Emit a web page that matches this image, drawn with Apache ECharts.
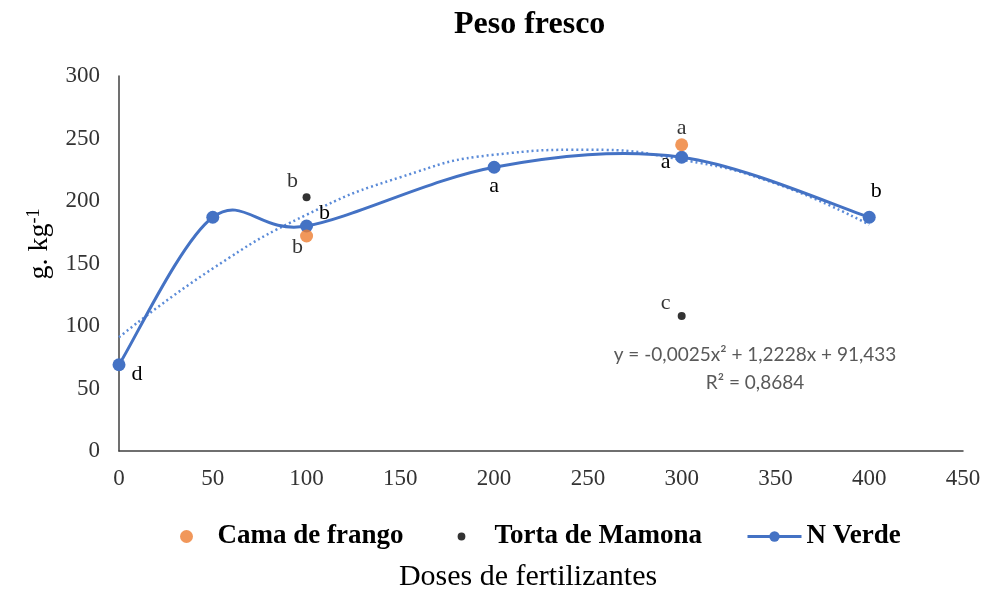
<!DOCTYPE html>
<html>
<head>
<meta charset="utf-8">
<script src="https://cdn.jsdelivr.net/npm/echarts@6/dist/echarts.min.js"></script>
<style>html,body{margin:0;padding:0;background:#fff}#c{width:990px;height:589px}</style>
</head>
<body>
<div id="c"></div>
<script>
// ---- data ----
const doses = [0, 50, 100, 200, 300, 400];
const nVerde = [69, 187, 180, 227, 235, 187];
const nVerdeLetters = ['d', '', 'b', 'a', 'a', 'b'];
const camaDoses = [100, 300];
const cama = [172, 245];
const camaLetters = ['b', 'a'];
const tortaDoses = [100, 300];
const torta = [203, 108];
const tortaLetters = ['b', 'c'];
const trendDoses = [0, 50, 100, 150, 200, 250, 300, 350, 400];
const trend = [91, 146, 189, 219, 237, 241, 233, 214, 181];
const xTicks = [0, 450, 50];
const yTicks = [0, 300, 50];
const equationLines = ['y = -0,0025x² + 1,2228x + 91,433', 'R² = 0,8684'];
const seriesNames = ['Cama de frango', 'Torta de Mamona', 'N Verde'];

// ---- label placement (styles) ----
const nVerdeOffsets = [[18, 9], null, [18, -13], [0, 19], [-16, 5], [7, -26]];
const camaOffsets = [[-9, 11], [0, -17]];
const tortaOffsets = [[-14, -16], [-16, -13]];

const serif = '"Liberation Serif", "Times New Roman", serif';
const blue = '#4472C4';
function build(xs, ys, letters, offsets) {
  return xs.map((x, i) => {
    const d = { value: [x, ys[i]] };
    if (letters[i]) {
      d.label = { show: true, formatter: letters[i], position: 'inside', offset: offsets[i],
        fontFamily: serif, fontSize: 22, color: '#000' };
    }
    return d;
  });
}

// Excel-like smoothed curve through the N Verde points, drawn via the axis scales
function renderSmooth(params, api) {
  const pts = doses.map((x, i) => api.coord([x, nVerde[i]]));
  const n = pts.length;
  let d = 'M' + pts[0][0] + ',' + pts[0][1];
  for (let i = 0; i < n - 1; i++) {
    const p0 = pts[Math.max(i - 1, 0)], p1 = pts[i], p2 = pts[i + 1], p3 = pts[Math.min(i + 2, n - 1)];
    const c1 = [p1[0] + (p2[0] - p0[0]) / 6, p1[1] + (p2[1] - p0[1]) / 6];
    const c2 = [p2[0] - (p3[0] - p1[0]) / 6, p2[1] - (p3[1] - p1[1]) / 6];
    d += ' C' + c1[0] + ',' + c1[1] + ' ' + c2[0] + ',' + c2[1] + ' ' + p2[0] + ',' + p2[1];
  }
  return { type: 'path', shape: { pathData: d },
    style: { fill: null, stroke: blue, lineWidth: 3, lineJoin: 'round', lineCap: 'round' } };
}

const legendText = { fontFamily: serif, fontWeight: 'bold', fontSize: 27, color: '#000' };
const chart = echarts.init(document.getElementById('c'));
chart.setOption({
  animation: false,
  title: { text: 'Peso fresco', left: 449, top: 4,
    textStyle: { fontFamily: serif, fontWeight: 'bold', fontSize: 32, color: '#000' } },
  grid: { left: 119, right: 27, top: 76, bottom: 138, containLabel: false, outerBoundsMode: 'none' },
  xAxis: {
    type: 'value', min: xTicks[0], max: xTicks[1], interval: xTicks[2],
    name: 'Doses de fertilizantes', nameLocation: 'middle', nameGap: 111,
    nameTextStyle: { fontFamily: serif, fontSize: 30, color: '#000', padding: [0, 26, 0, 0] },
    axisLine: { lineStyle: { color: '#404040', width: 1.5 } },
    axisTick: { show: false }, splitLine: { show: false },
    axisLabel: { fontFamily: serif, fontSize: 23, color: '#333', margin: 16 }
  },
  yAxis: {
    type: 'value', min: yTicks[0], max: yTicks[1], interval: yTicks[2],
    axisLine: { show: true, lineStyle: { color: '#404040', width: 1.5 } },
    axisTick: { show: false }, splitLine: { show: false },
    axisLabel: { fontFamily: serif, fontSize: 23, color: '#333', margin: 19 }
  },
  legend: [
    { data: [{ name: seriesNames[0], icon: 'circle' }], top: 518, left: 175,
      itemWidth: 52, itemHeight: 13, textStyle: legendText },
    { data: [{ name: seriesNames[1], icon: 'path://M0,0 M20,20 M10,4 A6,6 0 1,1 10,16 A6,6 0 1,1 10,4 Z' }],
      top: 518, left: 450, itemWidth: 56, itemHeight: 13, textStyle: legendText },
    { data: [{ name: seriesNames[2], lineStyle: { opacity: 1, width: 3, color: blue } }],
      top: 518, left: 741, itemWidth: 54, itemHeight: 13, textStyle: legendText }
  ],
  graphic: equationLines.map((t, i) => ({
    type: 'text',
    style: { text: t, x: 755, y: 355 + i * 28, align: 'center', verticalAlign: 'middle',
      font: '19px Lato, "Open Sans", sans-serif', fill: '#595959' }
  })).concat([{
    type: 'text', x: 40, y: 244, rotation: Math.PI / 2,
    style: { text: '{n|g. kg}{s|-1}', align: 'center', verticalAlign: 'middle',
      rich: {
        n: { fontFamily: serif, fontSize: 28, fill: '#000', color: '#000' },
        s: { fontFamily: serif, fontSize: 18, fill: '#000', color: '#000', verticalAlign: 'top', padding: [0, 0, 12, 0] }
      } }
  }]),
  series: [
    {
      name: 'Trend', type: 'line', smooth: true, showSymbol: false, silent: true,
      data: trendDoses.map((x, i) => [x, trend[i]]),
      lineStyle: { color: '#5B8BD8', width: 2.5, type: [2, 3] }, z: 1
    },
    {
      name: 'N Verde curve', type: 'custom', silent: true, data: [0],
      renderItem: renderSmooth, z: 2
    },
    {
      name: seriesNames[2], type: 'line',
      data: build(doses, nVerde, nVerdeLetters, nVerdeOffsets),
      symbol: 'circle', symbolSize: 13,
      itemStyle: { color: blue }, lineStyle: { color: blue, width: 3, opacity: 0 }, z: 3
    },
    {
      name: seriesNames[0], type: 'scatter', symbolSize: 13,
      data: build(camaDoses, cama, camaLetters, camaOffsets),
      itemStyle: { color: '#ED7D31' }, z: 4
    },
    {
      name: seriesNames[1], type: 'scatter', symbolSize: 8,
      data: build(tortaDoses, torta, tortaLetters, tortaOffsets),
      itemStyle: { color: '#000' }, z: 4
    }
  ]
});
</script>
</body>
</html>
